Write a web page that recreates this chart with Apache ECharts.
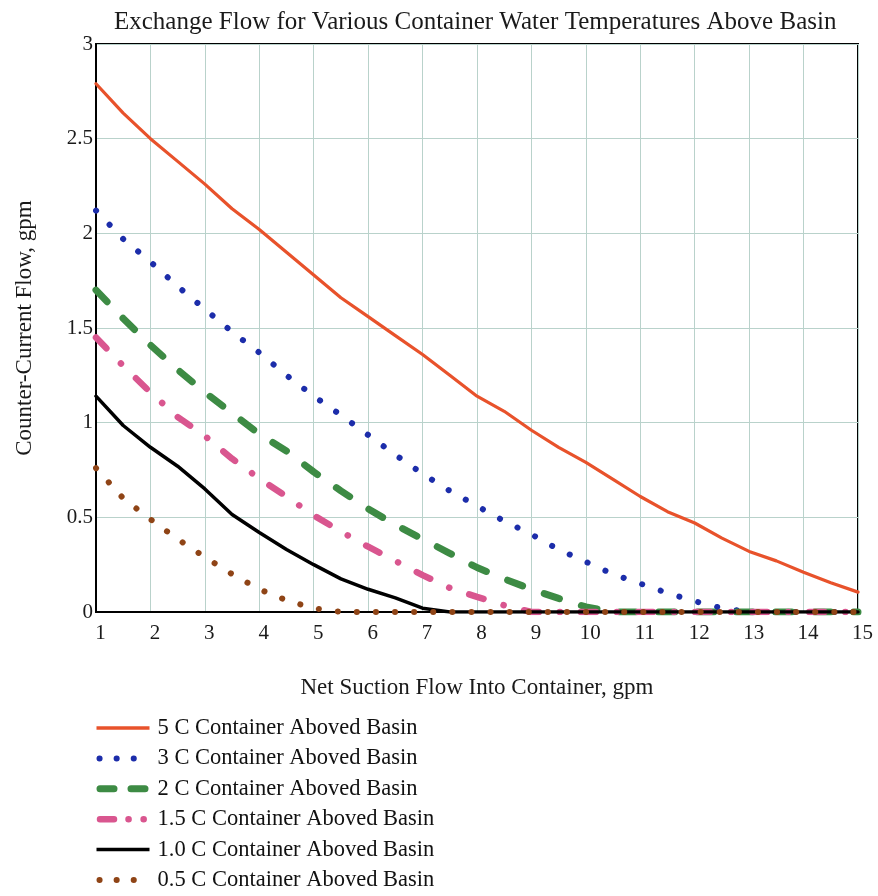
<!DOCTYPE html>
<html>
<head>
<meta charset="utf-8">
<script src="https://cdn.jsdelivr.net/npm/echarts@6/dist/echarts.min.js"></script>
<style>
html,body{margin:0;padding:0;background:#fff;}
#chart{width:878px;height:896px;}
</style>
</head>
<body>
<div id="chart"></div>
<script>
const titleText = 'Exchange Flow for Various Container Water Temperatures Above Basin';
const xAxisName = 'Net Suction Flow Into Container, gpm';
const yAxisName = 'Counter-Current Flow, gpm';
const seriesNames = ['5 C Container Aboved Basin','3 C Container Aboved Basin','2 C Container Aboved Basin','1.5 C Container Aboved Basin','1.0 C Container Aboved Basin','0.5 C Container Aboved Basin'];

const netSuction = [1,1.5,2,2.5,3,3.5,4,4.5,5,5.5,6,6.5,7,7.5,8,8.5,9,9.5,10,10.5,11,11.5,12,12.5,13,13.5,14,14.5,15];

const flow5C  = [2.79,2.635,2.50,2.38,2.26,2.13,2.02,1.90,1.78,1.66,1.56,1.46,1.36,1.25,1.14,1.06,0.96,0.87,0.79,0.70,0.61,0.53,0.47,0.39,0.32,0.27,0.21,0.155,0.105];
const flow3C  = [2.12,1.97,1.85,1.72,1.60,1.48,1.37,1.25,1.14,1.04,0.935,0.83,0.73,0.64,0.56,0.48,0.41,0.33,0.265,0.20,0.15,0.10,0.057,0.02,0,0,0,0,0];
const flow2C  = [1.70,1.55,1.41,1.28,1.16,1.05,0.94,0.85,0.74,0.64,0.545,0.46,0.385,0.31,0.235,0.175,0.12,0.072,0.027,0,0,0,0,0,0,0,0,0,0];
const flow15C = [1.45,1.30,1.16,1.03,0.93,0.81,0.705,0.61,0.51,0.425,0.345,0.27,0.195,0.127,0.08,0.035,0,0,0,0,0,0,0,0,0,0,0,0,0];
const flow10C = [1.14,0.985,0.87,0.77,0.65,0.515,0.42,0.33,0.25,0.175,0.12,0.075,0.02,0,0,0,0,0,0,0,0,0,0,0,0,0,0,0,0];
const flow05C = [0.76,0.60,0.49,0.385,0.29,0.20,0.12,0.062,0.02,0,0,0,0,0,0,0,0,0,0,0,0,0,0,0,0,0,0,0,0];

const seriesValues = [flow5C, flow3C, flow2C, flow15C, flow10C, flow05C];
const colors = ['#e8522b','#1c2daa','#3d8b44','#d9568f','#000000','#8f4416'];

const font = '"Liberation Serif","Times New Roman",serif';

const plotStyles = [
  {width:3.2, type:'solid', cap:'round'},
  {width:6, type:[0.1,19.5], cap:'round'},
  {width:7, type:[16,23], cap:'round'},
  {width:6.5, type:[15,21,0.1,21], cap:'round'},
  {width:3.5, type:'solid', cap:'round'},
  {width:6, type:[0.1,19], cap:'round'}
];
const legendStyles = [
  {width:3.5, type:'solid', cap:'butt'},
  {width:6, type:[0.1,17], dashOffset:-3, cap:'round'},
  {width:7, type:[14,17], dashOffset:-3.5, cap:'round'},
  {width:6.5, type:[14,14.5,0.1,15,0.1,40], dashOffset:-3.5, cap:'round'},
  {width:3.5, type:'solid', cap:'butt'},
  {width:6, type:[0.1,17], dashOffset:-3, cap:'round'}
];

const chart = echarts.init(document.getElementById('chart'), null, {renderer:'canvas'});

const series = seriesNames.map((name, i) => ({
  name: name,
  type: 'line',
  symbol: 'none',
  smooth: false,
  animation: false,
  data: netSuction.map((x, j) => [x, seriesValues[i][j]]),
  lineStyle: Object.assign({color: colors[i]}, plotStyles[i]),
  itemStyle: {color: colors[i]},
  z: 3
}));

chart.setOption({
  animation: false,
  backgroundColor: '#ffffff',
  textStyle: {fontFamily: font},
  title: {
    text: titleText,
    left: 109,
    top: 5,
    textStyle: {fontFamily: font, fontSize: 25, fontWeight: 'normal', color: '#1a1a1a'}
  },
  grid: {
    left: 96, right: 20, top: 44, bottom: 284,
    show: true, borderColor: '#000', borderWidth: 2, backgroundColor: 'transparent'
  },
  legend: {
    orient: 'vertical',
    left: 93,
    top: 716,
    bottom: 0,
    padding: 0,
    itemWidth: 53,
    itemHeight: 14,
    itemGap: 6.4,
    selectedMode: false,
    itemStyle: {opacity: 0, borderWidth: 0},
    textStyle: {fontFamily: font, fontSize: 22.5, color: '#111', lineHeight: 24, padding: [0,0,0,3]},
    data: seriesNames.map((name, i) => ({
      name: name,
      itemStyle: {opacity: 0, borderWidth: 0},
      lineStyle: Object.assign({color: colors[i]}, legendStyles[i])
    }))
  },
  xAxis: {
    type: 'value',
    min: 1, max: 15, interval: 1,
    name: xAxisName,
    nameLocation: 'middle',
    nameGap: 64,
    nameTextStyle: {fontFamily: font, fontSize: 23, color: '#1a1a1a'},
    axisLine: {show: true, lineStyle: {color: '#000', width: 2}},
    axisTick: {show: false},
    axisLabel: {fontFamily: font, fontSize: 21, color: '#1a1a1a', margin: 11, padding: [0,0,0,9]},
    splitLine: {show: true, lineStyle: {color: '#b9d2cb', width: 1}}
  },
  yAxis: {
    type: 'value',
    min: 0, max: 3, interval: 0.5,
    name: yAxisName,
    nameLocation: 'middle',
    nameGap: 60,
    nameTextStyle: {fontFamily: font, fontSize: 23, color: '#1a1a1a'},
    axisLine: {show: true, lineStyle: {color: '#000', width: 2}},
    axisTick: {show: false},
    axisLabel: {fontFamily: font, fontSize: 21, color: '#1a1a1a', margin: 3, padding: [12,0,0,0]},
    splitLine: {show: true, lineStyle: {color: '#b9d2cb', width: 1}}
  },
  series: series
});
</script>
</body>
</html>
